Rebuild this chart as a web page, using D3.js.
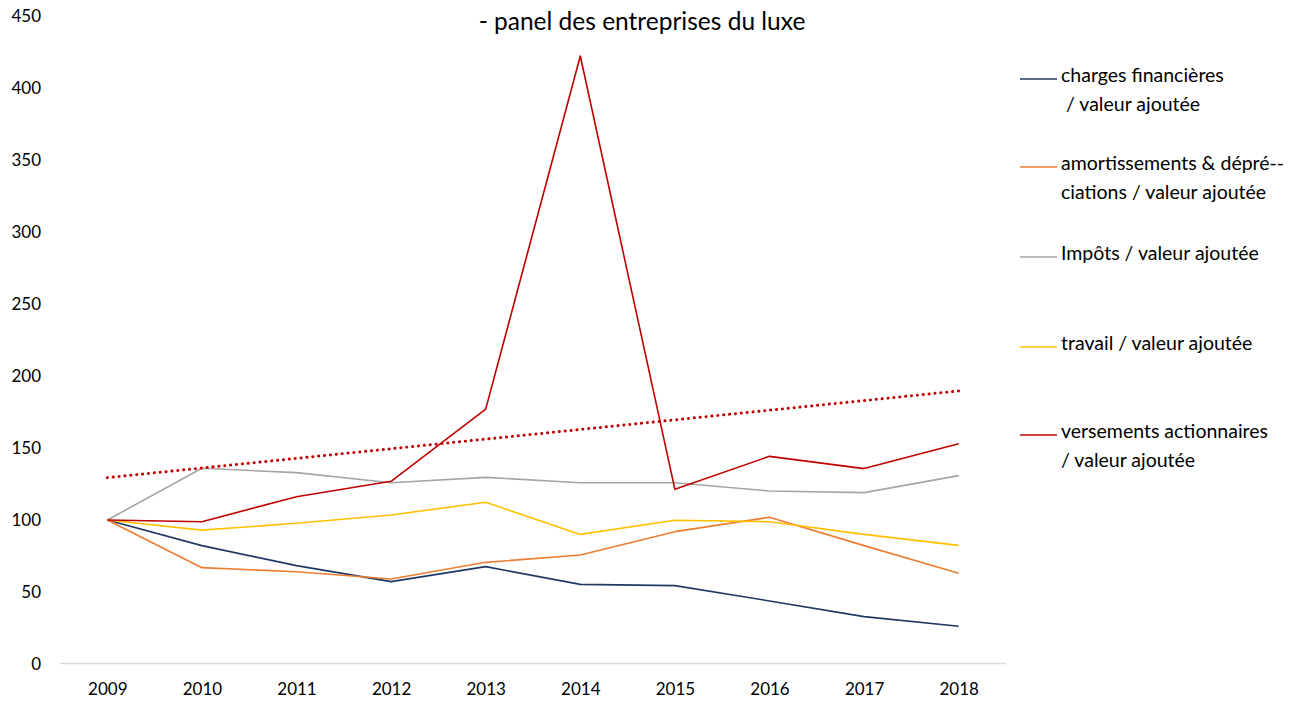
<!DOCTYPE html>
<html>
<head>
<meta charset="utf-8">
<script src="https://cdn.jsdelivr.net/npm/d3@7"></script>
<style>
  body { margin: 0; background: #fff; }
  svg text { font-family: Lato, "Open Sans", sans-serif; fill: #000; }
</style>
</head>
<body>
<div id="chart"></div>
<script>
// Data
const years = ["2009", "2010", "2011", "2012", "2013", "2014", "2015", "2016", "2017", "2018"];
const chargesFinancieres = [100, 82.2, 68.3, 57.2, 67.6, 55.3, 54.4, 43.8, 32.9, 26.2];
const amortissements = [100, 66.9, 64.1, 59.0, 70.6, 75.7, 91.9, 101.9, 82.2, 63.0];
const impots = [100, 135.9, 132.9, 125.9, 129.6, 125.9, 125.9, 120.1, 119.0, 130.8];
const travail = [100, 93.0, 97.7, 103.5, 112.3, 90.0, 99.8, 98.8, 90.0, 82.4];
const versements = [100, 98.8, 116.2, 126.9, 177.0, 422.2, 121.3, 144.2, 135.7, 153.0];
const yTicks = [0, 50, 100, 150, 200, 250, 300, 350, 400, 450];

const series = [
    { name: ["charges financières", " / valeur ajoutée"], values: chargesFinancieres, color: "#203864" },
    { name: ["amortissements & dépré--", "ciations / valeur ajoutée"], values: amortissements, color: "#ed7d31" },
    { name: ["Impôts / valeur ajoutée"], values: impots, color: "#a5a5a5" },
    { name: ["travail / valeur ajoutée"], values: travail, color: "#ffc000" },
    { name: ["versements actionnaires", "/ valeur ajoutée"], values: versements, color: "#c00000" }
];

const width = 1300, height = 708;

const svg = d3.select("#chart")
    .append("svg")
    .attr("width", width)
    .attr("height", height);

const x = d3.scalePoint()
    .domain(years)
    .range([60, 1006])
    .padding(0.5);

const y = d3.scaleLinear()
    .domain([0, 450])
    .range([664, 16]);

// title
svg.append("text")
    .attr("x", 642)
    .attr("y", 30)
    .attr("text-anchor", "middle")
    .style("font-size", "24.5px")
    .text("- panel des entreprises du luxe");

// y axis labels
const yAxis = svg.append("g")
    .attr("transform", "translate(41,0)")
    .call(d3.axisLeft(y).tickValues(yTicks).tickSize(0).tickPadding(0));
yAxis.select(".domain").remove();
yAxis.selectAll("text").style("font-size", "17px").attr("fill", "#000");

// x axis
const xAxis = svg.append("g")
    .attr("transform", "translate(0,664)")
    .call(d3.axisBottom(x).tickSize(0).tickPadding(19));
xAxis.select(".domain").remove();
xAxis.selectAll("text").style("font-size", "17px").attr("fill", "#000");
svg.append("line")
    .attr("x1", 60).attr("x2", 1006)
    .attr("y1", 663.5).attr("y2", 663.5)
    .attr("stroke", "#d9d9d9")
    .attr("stroke-width", 1.5);

const line = d3.line()
    .x((d, i) => x(years[i]))
    .y(d => y(d));

series.forEach(s => {
    svg.append("path")
        .datum(s.values)
        .attr("fill", "none")
        .attr("stroke", s.color)
        .attr("stroke-width", 1.6)
        .attr("stroke-linejoin", "round")
        .attr("d", line);
});

// linear trend of versements actionnaires (least squares)
const n = versements.length;
const xs = d3.range(n);
const mx = d3.mean(xs), my = d3.mean(versements);
const slope = d3.sum(xs, i => (i - mx) * (versements[i] - my)) / d3.sum(xs, i => (i - mx) * (i - mx));
const intercept = my - slope * mx;
const trend = xs.map(i => intercept + slope * i);

svg.append("path")
    .datum(trend)
    .attr("fill", "none")
    .attr("stroke", "#c00000")
    .attr("stroke-width", 3)
    .attr("stroke-linecap", "round")
    .attr("stroke-dasharray", "0.1 5.8")
    .attr("d", line);

// legend
const legendY = [79, 167, 257, 347, 435];
const legend = svg.append("g");
series.forEach((s, i) => {
    const g = legend.append("g").attr("transform", "translate(1020," + legendY[i] + ")");
    g.append("line")
        .attr("x1", 0).attr("x2", 37)
        .attr("y1", 0).attr("y2", 0)
        .attr("stroke", s.color)
        .attr("stroke-width", 1.5);
    s.name.forEach((t, j) => {
        g.append("text")
            .attr("x", 41)
            .attr("y", 3 + j * 29)
            .style("font-size", "19.5px")
            .style("white-space", "pre")
            .attr("xml:space", "preserve")
            .text(t);
    });
});
</script>
</body>
</html>
